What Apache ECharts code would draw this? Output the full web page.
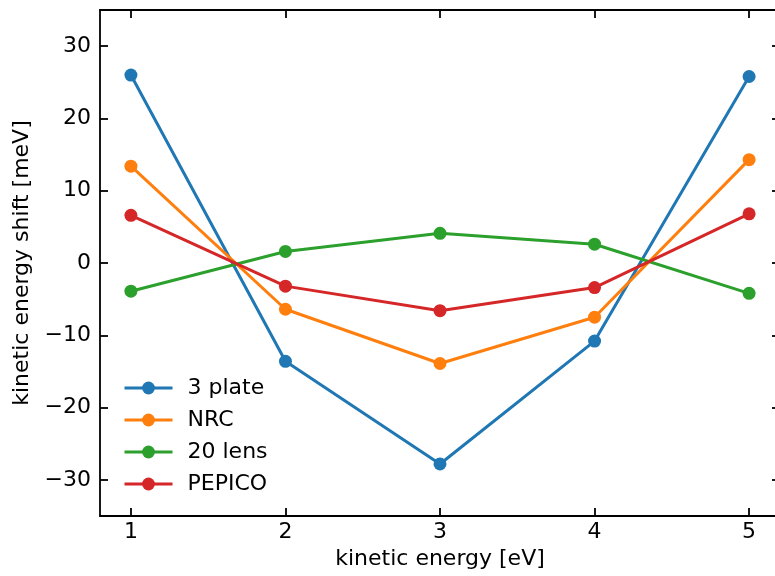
<!DOCTYPE html>
<html>
<head>
<meta charset="utf-8">
<script src="https://cdn.jsdelivr.net/npm/echarts@6/dist/echarts.min.js"></script>
<style>html,body{margin:0;padding:0;background:#fff;overflow:hidden;width:775px;height:576px}#c{width:790px;height:576px}</style>
</head>
<body>
<div id="c"></div>
<script>
const energies = [1, 2, 3, 4, 5];
const plate3 = [26.0, -13.6, -27.8, -10.8, 25.8];
const nrc = [13.4, -6.4, -13.9, -7.5, 14.3];
const lens20 = [-3.9, 1.6, 4.1, 2.6, -4.2];
const pepico = [6.6, -3.2, -6.6, -3.4, 6.8];
const xTicks = [1, 2, 3, 4, 5];
const yTicks = [-30, -20, -10, 0, 10, 20, 30];
const seriesNames = ['3 plate', 'NRC', '20 lens', 'PEPICO'];
const colors = ['#1f77b4', '#ff7f0e', '#2ca02c', '#d62728'];

const font = 'DejaVu Sans';
const fs = 22;
const chart = echarts.init(document.getElementById('c'), null, {renderer: 'canvas'});
const pair = arr => energies.map((x, i) => [x, arr[i]]);
const allData = [plate3, nrc, lens20, pepico];
const minusFmt = v => String(v).replace('-', '\u2212');

const lineSt = {color: '#000', width: 1.8};
const baseX = {
  type: 'value', min: 0.8, max: 5.2,
  splitLine: {show: false},
  axisLine: {show: true, onZero: false, lineStyle: lineSt},
  axisTick: {show: true, inside: true, length: 8, customValues: xTicks, lineStyle: lineSt},
};
const baseY = {
  type: 'value', min: -35, max: 35,
  splitLine: {show: false},
  axisLine: {show: true, onZero: false, lineStyle: lineSt},
  axisTick: {show: true, inside: true, length: 8, customValues: yTicks, lineStyle: lineSt},
};

chart.setOption({
  animation: false,
  color: colors,
  grid: {left: 100, width: 680, top: 10, height: 506, containLabel: false},
  xAxis: [
    Object.assign({}, baseX, {
      position: 'bottom',
      name: 'kinetic energy [eV]', nameLocation: 'middle', nameGap: 31,
      nameTextStyle: {fontFamily: font, fontSize: fs, color: '#000'},
      axisLabel: {show: true, customValues: xTicks, margin: 5, fontFamily: font, fontSize: fs, color: '#000', formatter: minusFmt}
    }),
    Object.assign({}, baseX, {position: 'top', axisLabel: {show: false}})
  ],
  yAxis: [
    Object.assign({}, baseY, {
      position: 'left',
      name: 'kinetic energy shift [meV]', nameLocation: 'middle', nameGap: 63,
      nameTextStyle: {fontFamily: font, fontSize: fs, color: '#000'},
      axisLabel: {show: true, customValues: yTicks, margin: 9, fontFamily: font, fontSize: fs, color: '#000', formatter: minusFmt}
    }),
    Object.assign({}, baseY, {position: 'right', axisLabel: {show: false}})
  ],
  legend: {
    orient: 'vertical', left: 118, top: 372,
    itemWidth: 48, itemHeight: 16, itemGap: 10,
    lineStyle: {width: 3},
    textStyle: {fontFamily: font, fontSize: fs, lineHeight: 22, color: '#000', padding: [0, 0, 0, 10]},
    data: seriesNames
  },
  series: seriesNames.map((n, i) => ({
    name: n, type: 'line', data: pair(allData[i]),
    xAxisIndex: 0, yAxisIndex: 0,
    symbol: 'circle', symbolSize: 13, showSymbol: true,
    lineStyle: {width: 3, color: colors[i]},
    itemStyle: {color: colors[i]}
  }))
});
</script>
</body>
</html>
